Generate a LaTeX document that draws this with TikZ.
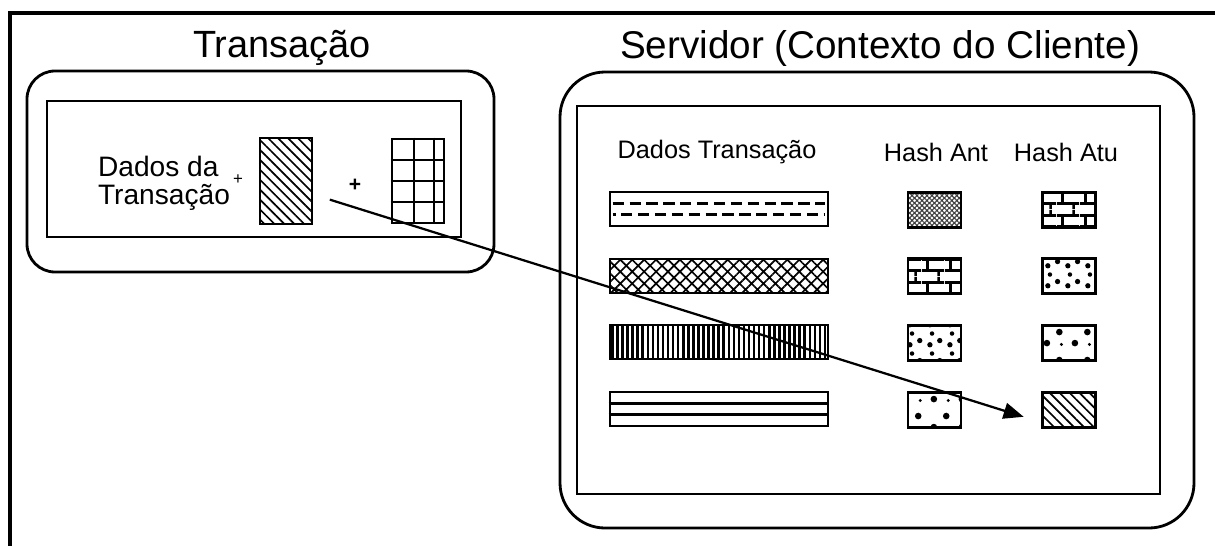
\documentclass[tikz,border=0pt]{standalone}
\usepackage{fontspec}
\setmainfont{Liberation Sans}
\usetikzlibrary{positioning,calc,patterns,patterns.meta,arrows.meta}

%tijolos (hash boxes)
\tikzdeclarepattern{
  name=tijolos,
  type=uncolored,
  bounding box={(0pt,0pt) and (16pt,16pt)},
  tile size={(16pt,16pt)},
  code={
    \draw[line width=1.9pt] (0pt,4pt) -- (16pt,4pt) (0pt,12pt) -- (16pt,12pt)
      (4pt,4pt) -- (4pt,12pt) (12pt,12pt) -- (12pt,16pt) (12pt,0pt) -- (12pt,4pt);
  }
}
%pontos densos
\tikzdeclarepattern{
  name=pontos,
  type=uncolored,
  bounding box={(0pt,0pt) and (14pt,14pt)},
  tile size={(14pt,14pt)},
  code={
    \fill (3.5pt,3pt) circle (1.9pt) (10.5pt,6pt) circle (1.9pt) (5pt,11pt) circle (1.6pt);
  }
}
%manchas esparsas
\tikzdeclarepattern{
  name=manchas,
  type=uncolored,
  bounding box={(0pt,0pt) and (20pt,20pt)},
  tile size={(20pt,20pt)},
  code={
    \fill (5pt,5pt) circle (2.4pt) (14pt,13pt) circle (2.4pt) (15.5pt,4pt) circle (1.2pt);
  }
}

\begin{document}
\begin{tikzpicture}[
    caixa/.style={draw = black, line width = 2pt, inner sep = 0},
    quadro/.style={draw = black, line width = 1.8pt, inner sep = 0},
    barra/.style={quadro, minimum width = 5.45cm, minimum height = 0.85cm},
    hash/.style={quadro, minimum width = 1.325cm, minimum height = 0.875cm},
    listras/.style={pattern = {Lines[angle = -45, distance = 5pt, line width = 1.2pt]}},
    tracos/.style={line width = 1.8pt, dash pattern = on 8pt off 4pt},
    titulo/.style={font = \fontsize{27}{30}\selectfont},
    rotulo/.style={font = \fontsize{18}{21}\selectfont},
    ]
    \useasboundingbox (0,0) rectangle (30.375,-13.65);

    %moldura
    \draw[line width = 2.4pt] (30.375,-0.325) -- (0.25,-0.325) -- (0.25,-13.65);

    %Transacao
    \node[caixa,
        minimum width = 11.675cm,
        minimum height = 5.025cm,
        rounded corners = 0.7cm] (T) at (6.5125,-4.2875) {};
    \node[titulo] (Tt) at (7.05,-1.2) {Transação};
    \node[quadro,
        minimum width = 10.35cm,
        minimum height = 3.4cm] (Tin) at ($(T.center) + (-0.1625,0.0625)$) {};

    \node[font = \fontsize{20}{20}\selectfont, align = left] (dados) at (4.1,-4.575) {Dados da\\Transação};
    \node[font = \fontsize{12}{12}\selectfont] (mais1) at (5.95,-4.5) {+};
    \node[quadro, listras,
        minimum width = 1.3cm,
        minimum height = 2.15cm] (hd) at (7.15,-4.525) {};
    \node[font = \bfseries\fontsize{15}{15}\selectfont] (mais2) at (8.875,-4.625) {+};

    %grade
    \node[quadro,
        minimum width = 1.3cm,
        minimum height = 2.1cm] (g) at (10.45,-4.525) {};
    \draw[line width = 1.5pt]
        ($(g.north west) + (0.575,0)$) -- ($(g.south west) + (0.575,0)$)
        ($(g.north west) + (1.075,0)$) -- ($(g.south west) + (1.075,0)$)
        ($(g.west) + (0,0.525)$) -- ($(g.east) + (0,0.525)$)
        (g.west) -- (g.east)
        ($(g.west) + (0,-0.525)$) -- ($(g.east) + (0,-0.525)$);

    %Servidor
    \node[caixa,
        minimum width = 15.85cm,
        minimum height = 11.4cm,
        rounded corners = 1.125cm] (S) at (21.925,-7.5) {};
    \node[titulo, font = \fontsize{27.5}{30}\selectfont] (St) at (22.0,-1.2) {Servidor (Contexto do Cliente)};
    \node[quadro,
        minimum width = 14.575cm,
        minimum height = 9.7cm] (Sin) at ($(S.center) + (-0.2125,0)$) {};

    \node[rotulo] (cd) at (17.925,-3.8) {Dados Transação};
    \node[rotulo] (ca) at (23.4,-3.8) {Hash Ant};
    \node[rotulo] (cb) at (26.65,-3.8) {Hash Atu};

    %dados transacao
    \node[barra] (b1) at (17.975,-5.225) {};
    \draw[tracos] ([xshift = 0.1cm, yshift = 0.14cm]b1.west) -- ([xshift = -0.1cm, yshift = 0.14cm]b1.east);
    \draw[tracos, dash phase = 6pt] ([xshift = 0.1cm, yshift = -0.14cm]b1.west) -- ([xshift = -0.1cm, yshift = -0.14cm]b1.east);
    \node[barra, pattern = {Hatch[angle = 45, distance = 6pt, line width = 1.2pt]}] (b2) at (17.975,-6.9) {};
    \node[barra, pattern = {Lines[angle = 90, distance = 3.6pt, line width = 1.8pt]}] (b3) at (17.975,-8.55) {};
    \node[barra] (b4) at (17.975,-10.225) {};
    \draw[line width = 2pt] ([yshift = 0.14cm]b4.west) -- ([yshift = 0.14cm]b4.east)
        ([yshift = -0.14cm]b4.west) -- ([yshift = -0.14cm]b4.east);

    %hash anterior
    \node[hash, pattern = {Hatch[angle = 45, distance = 2.5pt, line width = 0.8pt]}, pattern color = black!75] (a1) at (23.3625,-5.25) {};
    \node[hash, pattern = tijolos] (a2) at (23.3625,-6.9) {};
    \node[hash, pattern = pontos] (a3) at (23.3625,-8.575) {};
    \node[hash, pattern = manchas] (a4) at (23.3625,-10.25) {};

    %hash atual
    \node[hash, pattern = tijolos] (u1) at (26.725,-5.25) {};
    \node[hash, pattern = pontos] (u2) at (26.725,-6.9) {};
    \node[hash, pattern = manchas] (u3) at (26.725,-8.575) {};
    \node[hash, listras] (u4) at (26.725,-10.25) {};

    \coordinate (ini) at ($(hd.south east) + (0.425,0.63)$);
    \coordinate (fim) at ($(u4.west) + (-0.44,-0.17)$);

    \path[-{Triangle[length = 0.5cm, width = 0.4cm]}, line width = 1.6pt]
        (ini) edge (fim);

\end{tikzpicture}
\end{document}
